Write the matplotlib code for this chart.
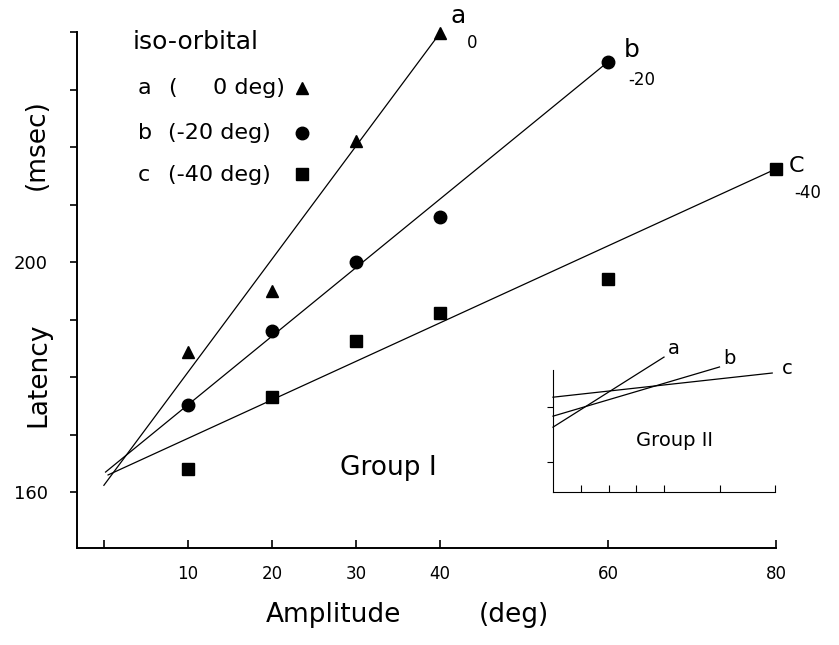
import matplotlib.pyplot as plt
from matplotlib.lines import Line2D

# Group I measurements (latency in msec vs amplitude in deg)
amp_a = [10, 20, 30, 40]
lat_a = [184.3, 195.0, 221.0, 239.8]
amp_b = [10, 20, 30, 40, 60]
lat_b = [175.1, 188.0, 200.0, 207.8, 234.8]
amp_c = [10, 20, 30, 40, 60, 80]
lat_c = [164.0, 176.5, 186.3, 191.1, 197.0, 216.2]

# fitted lines, end points
fit_a_x = [0.0, 40]
fit_a_y = [161.2, 239.8]
fit_b_x = [0.2, 60]
fit_b_y = [163.5, 234.8]
fit_c_x = [0.5, 80]
fit_c_y = [163.0, 216.2]

# Group II fitted lines (inset)
g2_a_x = [0, 40]
g2_a_y = [172.7, 198.2]
g2_b_x = [0, 60]
g2_b_y = [176.7, 194.6]
g2_c_x = [0, 79]
g2_c_y = [183.6, 192.4]

x_ticks = [0, 10, 20, 30, 40, 60, 80]
x_labels = ['', '10', '20', '30', '40', '60', '80']
y_ticks = [160, 170, 180, 190, 200, 210, 220, 230, 240]
y_labels = ['160', '', '', '', '200', '', '', '', '']

W, H = 839, 645
fig = plt.figure(figsize=(W / 100, H / 100), dpi=100)


def box(l, t, r, b):
    return [l / W, 1 - b / H, (r - l) / W, (b - t) / H]


def ftxt(x, y, s, **kw):
    kw.setdefault('ha', 'center')
    kw.setdefault('va', 'center')
    fig.text(x / W, 1 - y / H, s, **kw)


ax = fig.add_axes(box(77, 32, 776, 548))
ax.plot(fit_a_x, fit_a_y, color='black', lw=0.9, clip_on=False)
ax.plot(fit_b_x, fit_b_y, color='black', lw=0.9, clip_on=False)
ax.plot(fit_c_x, fit_c_y, color='black', lw=0.9, clip_on=False)
ax.plot(amp_a, lat_a, '^', color='black', ms=8, clip_on=False)
ax.plot(amp_b, lat_b, 'o', color='black', ms=9, clip_on=False)
ax.plot(amp_c, lat_c, 's', color='black', ms=9, clip_on=False)

ax.set_xlim(-3.2, 80)
ax.set_ylim(150.3, 240)
ax.spines['top'].set_visible(False)
ax.spines['right'].set_visible(False)
ax.spines['left'].set_linewidth(1.4)
ax.spines['bottom'].set_linewidth(1.4)
ax.set_xticks(x_ticks)
ax.set_xticklabels(x_labels, fontsize=12)
ax.set_yticks(y_ticks)
ax.set_yticklabels(y_labels, fontsize=13)
ax.tick_params(axis='x', direction='in', length=6, width=1.2, pad=12)
ax.tick_params(axis='y', direction='out', length=5, width=1.2, pad=16)

# inset: Group II
ins = fig.add_axes(box(553, 370, 775, 492))
ins.plot(g2_a_x, g2_a_y, color='black', lw=0.9, clip_on=False)
ins.plot(g2_b_x, g2_b_y, color='black', lw=0.9, clip_on=False)
ins.plot(g2_c_x, g2_c_y, color='black', lw=0.9, clip_on=False)
ins.set_xlim(0, 80)
ins.set_ylim(149.1, 193.5)
ins.spines['top'].set_visible(False)
ins.spines['right'].set_visible(False)
ins.set_xticks([10, 20, 30, 40, 60, 80])
ins.set_yticks([160, 180])
ins.set_xticklabels([])
ins.set_yticklabels([])
ins.tick_params(axis='x', direction='in', length=5)
ins.tick_params(axis='y', direction='out', length=4)
ins.patch.set_alpha(0)

ftxt(674, 348, 'a', fontsize=14)
ftxt(729, 358, 'b', fontsize=14)
ftxt(787, 368, 'c', fontsize=14)
ftxt(675, 440, 'Group II', fontsize=14)

# main labels
ftxt(388, 468, 'Group I', fontsize=19)
ftxt(458, 16, 'a', fontsize=18)
ftxt(472, 43, '0', fontsize=12)
ftxt(632, 50, 'b', fontsize=18)
ftxt(642, 80, '-20', fontsize=12)
ftxt(796, 166, 'C', fontsize=16)
ftxt(808, 193, '-40', fontsize=12)

# legend
ftxt(133, 42, 'iso-orbital', fontsize=18, ha='left')
ftxt(138, 88, 'a', fontsize=16, ha='left')
ftxt(168, 88, '(', fontsize=16, ha='left')
ftxt(285, 88, '0 deg)', fontsize=16, ha='right')
ftxt(138, 133, 'b', fontsize=16, ha='left')
ftxt(168, 133, '(-20 deg)', fontsize=16, ha='left')
ftxt(138, 175, 'c', fontsize=16, ha='left')
ftxt(168, 175, '(-40 deg)', fontsize=16, ha='left')
for (mx, my, mk, ms) in [(302, 88, '^', 8), (302, 133, 'o', 9), (302, 174, 's', 9)]:
    fig.add_artist(Line2D([mx / W], [1 - my / H], marker=mk, ms=ms,
                          color='black', transform=fig.transFigure))

# axis titles
ftxt(38, 375, 'Latency', fontsize=19, rotation=90)
ftxt(37, 145, '(msec)', fontsize=19, rotation=90)
ftxt(333, 615, 'Amplitude', fontsize=19)
ftxt(514, 615, '(deg)', fontsize=19)

plt.savefig('out.png', dpi=100)
